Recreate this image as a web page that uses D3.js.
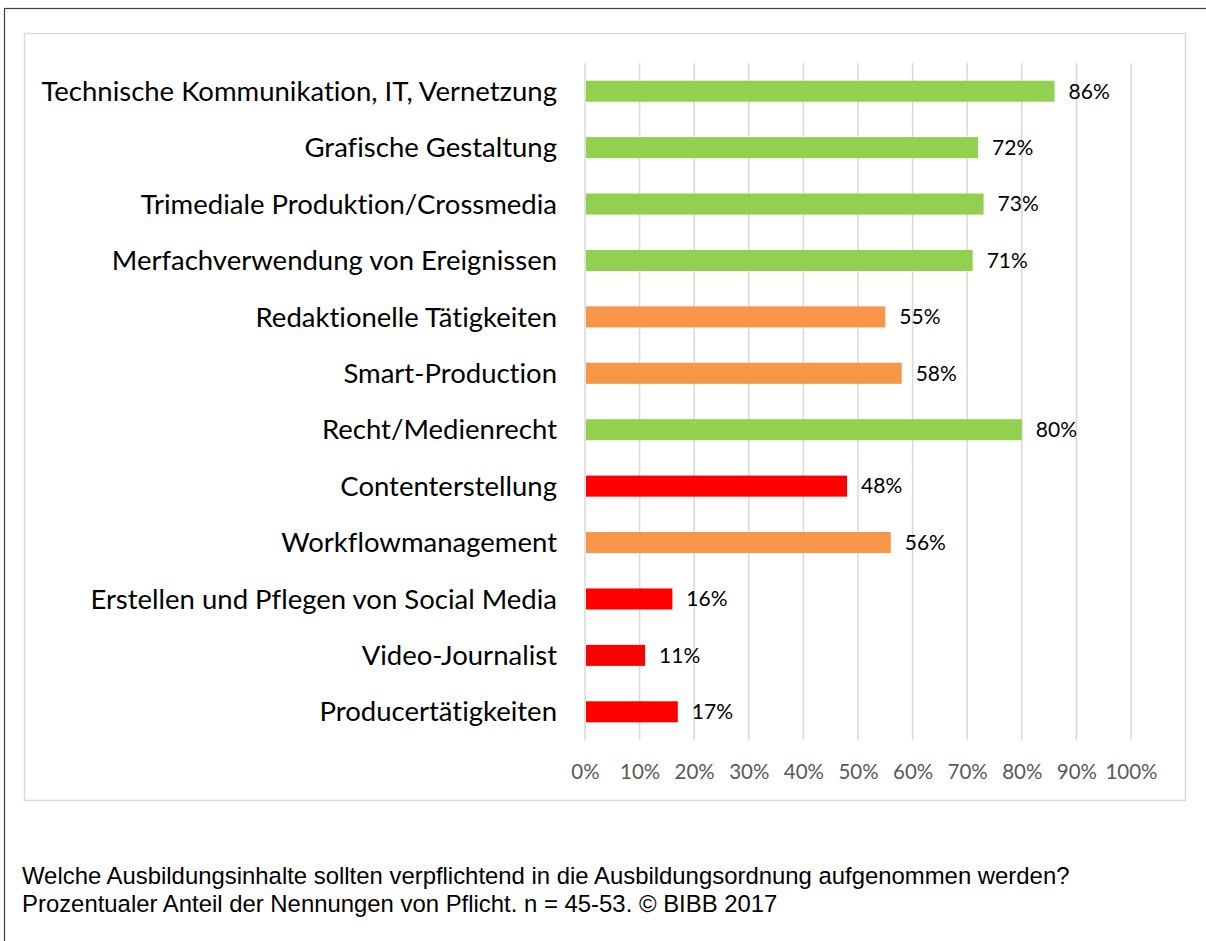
<!DOCTYPE html>
<html><head><meta charset="utf-8">
<script src="https://cdn.jsdelivr.net/npm/d3@7"></script>
<style>body{margin:0;background:#fff}svg{display:block}text{font-variant-ligatures:none;font-feature-settings:"liga" 0}</style>
</head><body>
<script>
const categories = ["Technische Kommunikation, IT, Vernetzung","Grafische Gestaltung","Trimediale Produktion/Crossmedia","Merfachverwendung von Ereignissen","Redaktionelle Tätigkeiten","Smart-Production","Recht/Medienrecht","Contenterstellung","Workflowmanagement","Erstellen und Pflegen von Social Media","Video-Journalist","Producertätigkeiten"];
const values = [86,72,73,71,55,58,80,48,56,16,11,17];
const groups = ["g","g","g","g","o","o","g","r","o","r","r","r"];
const tickValues = [0,10,20,30,40,50,60,70,80,90,100];
const footerLines = ["Welche Ausbildungsinhalte sollten verpflichtend in die Ausbildungsordnung aufgenommen werden?","Prozentualer Anteil der Nennungen von Pflicht. n = 45-53. © BIBB 2017"];
const colorMap = {g:"#92D050", o:"#F79646", r:"#FF0000"};

const W=1206,H=941;
const svg=d3.select("body").append("svg").attr("width",W).attr("height",H);
svg.append("rect").attr("x",4.5).attr("y",8.5).attr("width",W+10).attr("height",H+10).attr("fill","none").attr("stroke","#404040").attr("stroke-width",1.2);
svg.append("rect").attr("x",24.5).attr("y",33.5).attr("width",1161).attr("height",767).attr("fill","none").attr("stroke","#d9d9d9").attr("stroke-width",1.5);

const x=d3.scaleLinear().domain([0,100]).range([585,1131]);
const y=d3.scaleBand().domain(categories).range([63,740]).paddingInner(0.627).paddingOuter(0.3135);

// gridlines
svg.append("g").selectAll("line").data(tickValues).join("line")
 .attr("x1",d=>x(d)).attr("x2",d=>x(d)).attr("y1",63).attr("y2",740)
 .attr("stroke","#d9d9d9").attr("stroke-width",1.5);

// bars
svg.append("g").selectAll("rect").data(categories).join("rect")
 .attr("x",x(0)+1).attr("y",d=>y(d)).attr("height",y.bandwidth())
 .attr("width",(d,i)=>x(values[i])-x(0)-1)
 .attr("fill",(d,i)=>colorMap[groups[i]]);

// category labels
svg.append("g").selectAll("text").data(categories).join("text")
 .attr("x",557).attr("y",d=>y(d)+y.bandwidth()/2).attr("dy","0.35em")
 .attr("text-anchor","end").attr("font-family","Lato, 'Noto Sans', sans-serif").attr("font-size",27.5).attr("fill","#000")
 .text(d=>d);

// value labels
svg.append("g").selectAll("text").data(categories).join("text")
 .attr("x",(d,i)=>x(values[i])+14).attr("y",d=>y(d)+y.bandwidth()/2).attr("dy","0.35em")
 .attr("font-family","Lato, 'Noto Sans', sans-serif").attr("font-size",21).attr("fill","#000")
 .text((d,i)=>values[i]+"%");

// axis
const ax=svg.append("g").attr("transform","translate(0,740)")
 .call(d3.axisBottom(x).tickValues(tickValues).tickFormat(d=>d+"%").tickSize(0).tickPadding(24));
ax.select(".domain").remove();
ax.selectAll("text").attr("font-family","Lato, 'Noto Sans', sans-serif").attr("font-size",20.5).attr("fill","#595959");

// footer
svg.append("g").selectAll("text").data(footerLines).join("text")
 .attr("x",22).attr("y",(d,i)=>884+i*28)
 .attr("font-family","'Liberation Sans', Arial, sans-serif").attr("font-size",23.9).attr("fill","#000")
 .text(d=>d);
</script>
</body></html>
